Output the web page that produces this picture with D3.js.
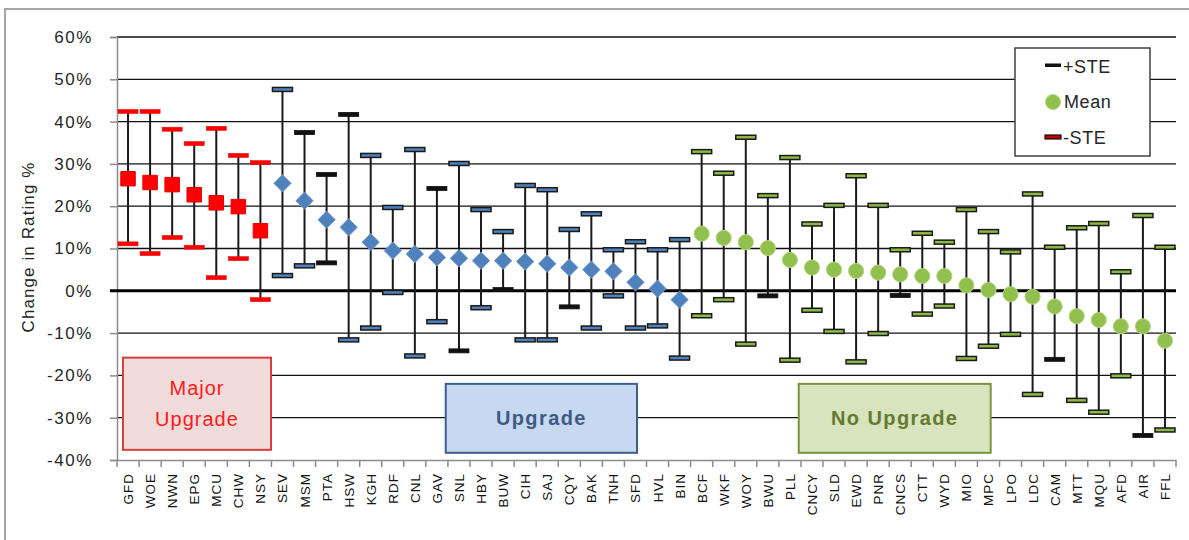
<!DOCTYPE html>
<html>
<head>
<meta charset="utf-8">
<script src="https://cdn.jsdelivr.net/npm/d3@7"></script>
<style>
  body { margin: 0; background: #fff; }
  svg text { font-family: "Liberation Sans", Arial, sans-serif; }
</style>
</head>
<body>
<svg id="chart" width="1189" height="540"></svg>
<script>
// categories, grouped by upgrade type
var majorNames = ["GFD","WOE","NWN","EPG","MCU","CHW","NSY"];
var upgradeNames = ["SEV","MSM","PTA","HSW","KGH","RDF","CNL","GAV","SNL","HBY","BUW","CIH","SAJ","CQY","BAK","TNH","SFD","HVL","BIN"];
var noUpgradeNames = ["BCF","WKF","WOY","BWU","PLL","CNCY","SLD","EWD","PNR","CNCS","CTT","WYD","MIO","MPC","LPO","LDC","CAM","MTT","MQU","AFD","AIR","FFL"];

// mean change in rating (%)
var means = [26.5,25.6,25.1,22.7,20.8,19.9,14.2,
  25.4,21.3,16.8,15.0,11.5,9.5,8.7,7.9,7.7,7.1,7.1,6.9,6.4,5.5,5.0,4.6,2.0,0.5,-2.1,
  13.5,12.5,11.5,10.1,7.3,5.5,5.0,4.7,4.3,3.9,3.5,3.5,1.3,0.2,-0.8,-1.4,-3.7,-6.0,-6.9,-8.4,-8.4,-11.8];
// +STE
var plusSte = [42.4,42.4,38.2,34.8,38.4,32.0,30.3,
  47.6,37.4,27.5,41.7,32.0,19.7,33.4,24.2,30.1,19.2,14.0,24.9,23.9,14.5,18.2,9.7,11.6,9.7,12.1,
  32.9,27.8,36.3,22.5,31.5,15.8,20.2,27.2,20.2,9.7,13.6,11.5,19.2,14.0,9.2,22.9,10.3,14.9,15.9,4.5,17.8,10.3];
// -STE
var minusSte = [11.1,8.8,12.6,10.3,3.1,7.6,-2.1,
  3.6,5.9,6.6,-11.6,-8.8,-0.4,-15.4,-7.3,-14.2,-4.0,0.3,-11.6,-11.6,-3.8,-8.8,-1.2,-8.8,-8.3,-15.9,
  -5.9,-2.1,-12.6,-1.2,-16.4,-4.6,-9.6,-16.8,-10.1,-1.1,-5.5,-3.6,-16.0,-13.1,-10.3,-24.5,-16.2,-25.9,-28.7,-20.1,-34.2,-32.9];

// caps drawn as plain black dashes instead of the group colour
var plusBlack = ["MSM","PTA","HSW","GAV"];
var minusBlack = ["PTA","SNL","BUW","CQY","BWU","CNCS","CAM","AIR"];

var yTicks = [-0.4,-0.3,-0.2,-0.1,0,0.1,0.2,0.3,0.4,0.5,0.6];

var names = majorNames.concat(upgradeNames, noUpgradeNames);
var groupOf = function(n) {
  if (majorNames.indexOf(n) >= 0) return "major";
  if (upgradeNames.indexOf(n) >= 0) return "upgrade";
  return "none";
};

var data = names.map(function(n, i) {
  return {name: n, group: groupOf(n), mean: means[i] / 100, hi: plusSte[i] / 100, lo: minusSte[i] / 100,
          hiBlack: plusBlack.indexOf(n) >= 0, loBlack: minusBlack.indexOf(n) >= 0};
});

var colors = {
  major:   {mark: "#ff0000", cap: "#ff0000", capStroke: "#e01010"},
  upgrade: {mark: "#4f81bd", cap: "#4f81bd", capStroke: "#1a1a1a"},
  none:    {mark: "#92c04f", cap: "#8db844", capStroke: "#1a1a1a"}
};

// annotation boxes, in category-index / value units
var boxes = [
  {lines: ["Major", "Upgrade"], x0: 0.27, x1: 6.98, y0: -0.158, y1: -0.376, fill: "#f2dcdb", stroke: "#d5403d", text: "#ff1a1a", bold: false},
  {lines: ["Upgrade"], x0: 14.9, x1: 23.57, y0: -0.22, y1: -0.383, fill: "#c6d9f1", stroke: "#3d5f8c", text: "#405a82", bold: true},
  {lines: ["No Upgrade"], x0: 30.9, x1: 39.6, y0: -0.22, y1: -0.383, fill: "#d7e4bd", stroke: "#77933c", text: "#647a30", bold: true}
];

var svg = d3.select("#chart");

// outer chart frame
svg.append("rect")
  .attr("x", 5).attr("y", 9).attr("width", 1200).attr("height", 600)
  .attr("fill", "none").attr("stroke", "#a6a6a6").attr("stroke-width", 2);

var plotLeft = 117, plotRight = 1176, plotTop = 37, plotBottom = 460;

var x = d3.scaleBand().domain(names).range([plotLeft, plotRight]);
var xi = d3.scaleLinear().domain([0, names.length]).range([plotLeft, plotRight]);
var y = d3.scaleLinear().domain([-0.4, 0.6]).range([plotBottom, plotTop]);

// horizontal gridlines
svg.append("g").selectAll("line")
  .data(yTicks.filter(function(t) { return t > -0.4 && t !== 0; }))
  .enter().append("line")
  .attr("x1", plotLeft).attr("x2", plotRight)
  .attr("y1", function(d) { return y(d); }).attr("y2", function(d) { return y(d); })
  .attr("stroke", "#111").attr("stroke-width", 1.3);

// y axis
var yAxis = d3.axisLeft(y).tickValues(yTicks).tickSize(7).tickPadding(17)
  .tickFormat(function(d) { return Math.round(d * 100) + "%"; });
var gy = svg.append("g").attr("transform", "translate(" + plotLeft + ",0)").call(yAxis);
gy.select(".domain").attr("stroke", "#8c8c8c").attr("stroke-width", 1.5);
gy.selectAll(".tick line").attr("stroke", "#8c8c8c").attr("stroke-width", 1.5);
gy.selectAll(".tick text")
  .attr("font-size", 17).attr("fill", "#262626").attr("letter-spacing", 1.6)
  .attr("font-family", "Liberation Sans, Arial, sans-serif");

// y axis title
svg.append("text")
  .attr("transform", "translate(34,247) rotate(-90)")
  .attr("text-anchor", "middle")
  .attr("font-size", 17).attr("letter-spacing", 1.1).attr("fill", "#262626")
  .text("Change in Rating %");

// x axis
var xAxis = d3.axisBottom(x).tickSize(0).tickFormat("");
var gx = svg.append("g").attr("transform", "translate(0," + plotBottom + ")").call(xAxis);
gx.select(".domain").attr("stroke", "#8c8c8c").attr("stroke-width", 1.5);
gx.selectAll(".tick").remove();

// tick marks between categories
svg.append("g").selectAll("line")
  .data(d3.range(names.length + 1))
  .enter().append("line")
  .attr("x1", function(d) { return xi(d); }).attr("x2", function(d) { return xi(d); })
  .attr("y1", plotBottom).attr("y2", plotBottom + 7)
  .attr("stroke", "#8c8c8c").attr("stroke-width", 1.5);

// category labels
svg.append("g").selectAll("text")
  .data(names)
  .enter().append("text")
  .attr("transform", function(d) {
    return "translate(" + (x(d) + x.bandwidth() / 2 + 5) + "," + (plotBottom + 13) + ") rotate(-90)";
  })
  .attr("text-anchor", "end")
  .attr("font-size", 13.5).attr("letter-spacing", 1).attr("fill", "#111")
  .text(function(d) { return d; });

// zero line
svg.append("line")
  .attr("x1", plotLeft - 7).attr("x2", plotRight)
  .attr("y1", y(0)).attr("y2", y(0))
  .attr("stroke", "#000").attr("stroke-width", 3);

// annotation boxes
var gb = svg.append("g").selectAll("g").data(boxes).enter().append("g");
gb.append("rect")
  .attr("x", function(d) { return xi(d.x0); })
  .attr("y", function(d) { return y(d.y0); })
  .attr("width", function(d) { return xi(d.x1) - xi(d.x0); })
  .attr("height", function(d) { return y(d.y1) - y(d.y0); })
  .attr("fill", function(d) { return d.fill; })
  .attr("stroke", function(d) { return d.stroke; }).attr("stroke-width", 2);
gb.each(function(d) {
  var g = d3.select(this);
  var mx = (xi(d.x0) + xi(d.x1)) / 2;
  var my = (y(d.y0) + y(d.y1)) / 2;
  var lh = 31;
  d.lines.forEach(function(t, k) {
    g.append("text")
      .attr("x", mx).attr("y", my + 7 + (k - (d.lines.length - 1) / 2) * lh)
      .attr("text-anchor", "middle")
      .attr("font-size", 20).attr("font-weight", d.bold ? "bold" : "normal")
      .attr("letter-spacing", d.bold ? 1.4 : 1)
      .attr("fill", d.text)
      .text(t);
  });
});

// error lines
var cx = function(d) { return x(d.name) + x.bandwidth() / 2; };
svg.append("g").selectAll("line")
  .data(data).enter().append("line")
  .attr("x1", cx).attr("x2", cx)
  .attr("y1", function(d) { return y(d.hi); })
  .attr("y2", function(d) { return y(d.lo); })
  .attr("stroke", "#1a1a1a").attr("stroke-width", 2);

// caps
function drawCaps(key, blackKey) {
  svg.append("g").selectAll("rect")
    .data(data).enter().append("rect")
    .attr("x", function(d) { return cx(d) - 10; })
    .attr("y", function(d) { return y(d[key]) - 2; })
    .attr("width", 20).attr("height", 4)
    .attr("fill", function(d) { return d[blackKey] ? "#111" : colors[d.group].cap; })
    .attr("stroke", function(d) { return d[blackKey] ? "#111" : colors[d.group].capStroke; })
    .attr("stroke-width", function(d) { return d[blackKey] ? 0.8 : (d.group === "major" ? 0.6 : 1.5); });
}
drawCaps("hi", "hiBlack");
drawCaps("lo", "loBlack");

// mean markers
svg.append("g").selectAll("path")
  .data(data).enter().append("path")
  .attr("transform", function(d) { return "translate(" + cx(d) + "," + y(d.mean) + ")"; })
  .attr("d", function(d) {
    if (d.group === "major") return d3.symbol(d3.symbolSquare, 210)();
    if (d.group === "upgrade") return d3.symbol(d3.symbolDiamond2, 190)();
    return d3.symbol(d3.symbolCircle, 180)();
  })
  .attr("fill", function(d) { return colors[d.group].mark; })
  .attr("stroke", function(d) {
    return d.group === "major" ? "#e60000" : d.group === "upgrade" ? "#6f97c9" : "#b2d47c";
  })
  .attr("stroke-width", 1);

// legend
var lg = svg.append("g");
lg.append("rect")
  .attr("x", 1015).attr("y", 48).attr("width", 135).attr("height", 108)
  .attr("fill", "#fff").attr("stroke", "#404040").attr("stroke-width", 1.5);
lg.append("rect").attr("x", 1045).attr("y", 63.5).attr("width", 16).attr("height", 3.5).attr("fill", "#111");
lg.append("circle").attr("cx", 1053).attr("cy", 102).attr("r", 7.5)
  .attr("fill", colors.none.mark).attr("stroke", "#b2d47c");
lg.append("rect").attr("x", 1045).attr("y", 135).attr("width", 16).attr("height", 4)
  .attr("fill", "#c00000").attr("stroke", "#111").attr("stroke-width", 1.2);
[["+STE", 73], ["Mean", 108], ["-STE", 144]].forEach(function(it) {
  lg.append("text")
    .attr("x", it[0] === "Mean" ? 1064 : 1063).attr("y", it[1])
    .attr("font-size", 18).attr("letter-spacing", 0.6).attr("fill", "#262626")
    .text(it[0]);
});
</script>
</body>
</html>
